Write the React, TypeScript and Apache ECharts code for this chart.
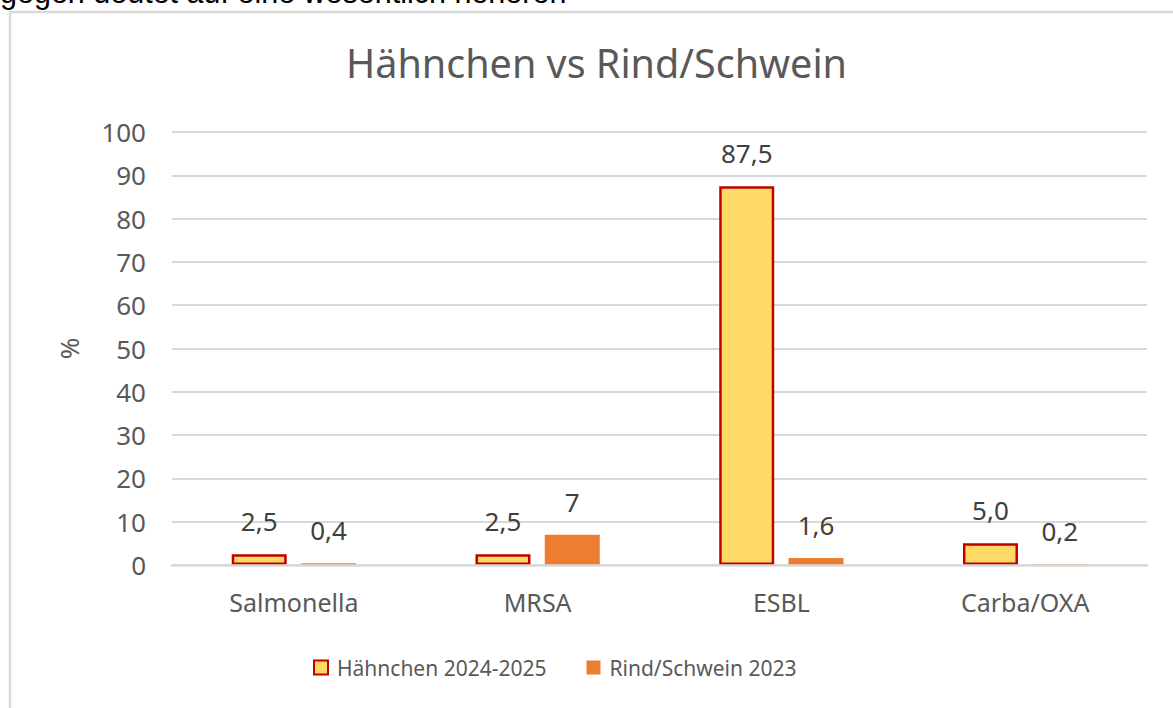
import React, { useEffect, useRef } from "react";
import * as echarts from "echarts";

const categories = ["Salmonella", "MRSA", "ESBL", "Carba/OXA"];
const haehnchen = [2.5, 2.5, 87.5, 5.0];
const rindSchwein = [0.4, 7, 1.6, 0.2];
const seriesNames = ["Hähnchen 2024-2025", "Rind/Schwein 2023"];
const titleText = "Hähnchen vs Rind/Schwein";
const topText = "gegen deutet auf eine wesentlich höheren";

const FONT = "'Noto Sans', sans-serif";

export default function App() {
  const ref = useRef<HTMLDivElement>(null);
  useEffect(() => {
    if (!ref.current) return;
    const chart = echarts.init(ref.current, null, { renderer: "svg" });
    chart.setOption({
      animation: false,
      backgroundColor: "#ffffff",
      textStyle: { fontFamily: FONT },
      graphic: [
        {
          type: "rect",
          shape: { x: 10, y: 12, width: 1300, height: 900 },
          style: { fill: "none", stroke: "#d9d9d9", lineWidth: 2.5 },
          silent: true,
          z: -10,
        },
        {
          type: "text",
          x: 0,
          y: 7,
          style: {
            text: topText,
            font: "30.5px 'Liberation Sans', Arial, sans-serif",
            fill: "#000000",
            verticalAlign: "bottom",
          },
        },
      ],
      title: {
        text: titleText,
        left: 341,
        top: 38,
        textStyle: { fontFamily: FONT, fontSize: 39.5, fontWeight: "normal", color: "#595959" },
      },
      legend: {
        data: seriesNames,
        bottom: 25,
        left: 308,
        icon: "rect",
        itemWidth: 14,
        itemHeight: 14,
        itemGap: 40,
        textStyle: { fontFamily: FONT, fontSize: 21, color: "#595959", padding: [0, 0, 0, 4] },
      },
      grid: { left: 172, right: 26, top: 132, bottom: 143, containLabel: false },
      xAxis: {
        type: "category",
        data: categories,
        z: 3,
        axisLine: { lineStyle: { color: "#d9d9d9", width: 2.5 } },
        axisTick: { show: false },
        axisLabel: { color: "#595959", fontSize: 25, fontFamily: FONT, margin: 24 },
      },
      yAxis: {
        type: "value",
        min: 0,
        max: 100,
        interval: 10,
        name: "%",
        nameLocation: "middle",
        nameGap: 90,
        nameTextStyle: { color: "#595959", fontSize: 26, fontFamily: FONT },
        axisLine: { show: false },
        axisTick: { show: false },
        axisLabel: { color: "#595959", fontSize: 26, fontFamily: FONT, margin: 26 },
        splitLine: { lineStyle: { color: "#d9d9d9", width: 2 } },
      },
      series: [
        {
          name: seriesNames[0],
          type: "bar",
          data: haehnchen,
          barWidth: 55,
          barGap: "26%",
          itemStyle: { color: "#FFD966", borderColor: "#C00000", borderWidth: 2.5 },
          label: {
            show: true,
            position: "top",
            distance: 20,
            color: "#404040",
            fontSize: 26,
            fontFamily: FONT,
            formatter: (p: any) => Number(p.value).toFixed(1).replace(".", ","),
          },
        },
        {
          name: seriesNames[1],
          type: "bar",
          data: rindSchwein,
          barWidth: 55,
          itemStyle: { color: "#ED7D31" },
          label: {
            show: true,
            position: "top",
            distance: 20,
            color: "#404040",
            fontSize: 26,
            fontFamily: FONT,
            formatter: (p: any) => String(p.value).replace(".", ","),
          },
        },
      ],
    });
    return () => chart.dispose();
  }, []);
  return (
    <div
      ref={ref}
      style={{ position: "fixed", left: 0, top: 0, width: 1173, height: 708 }}
    />
  );
}
